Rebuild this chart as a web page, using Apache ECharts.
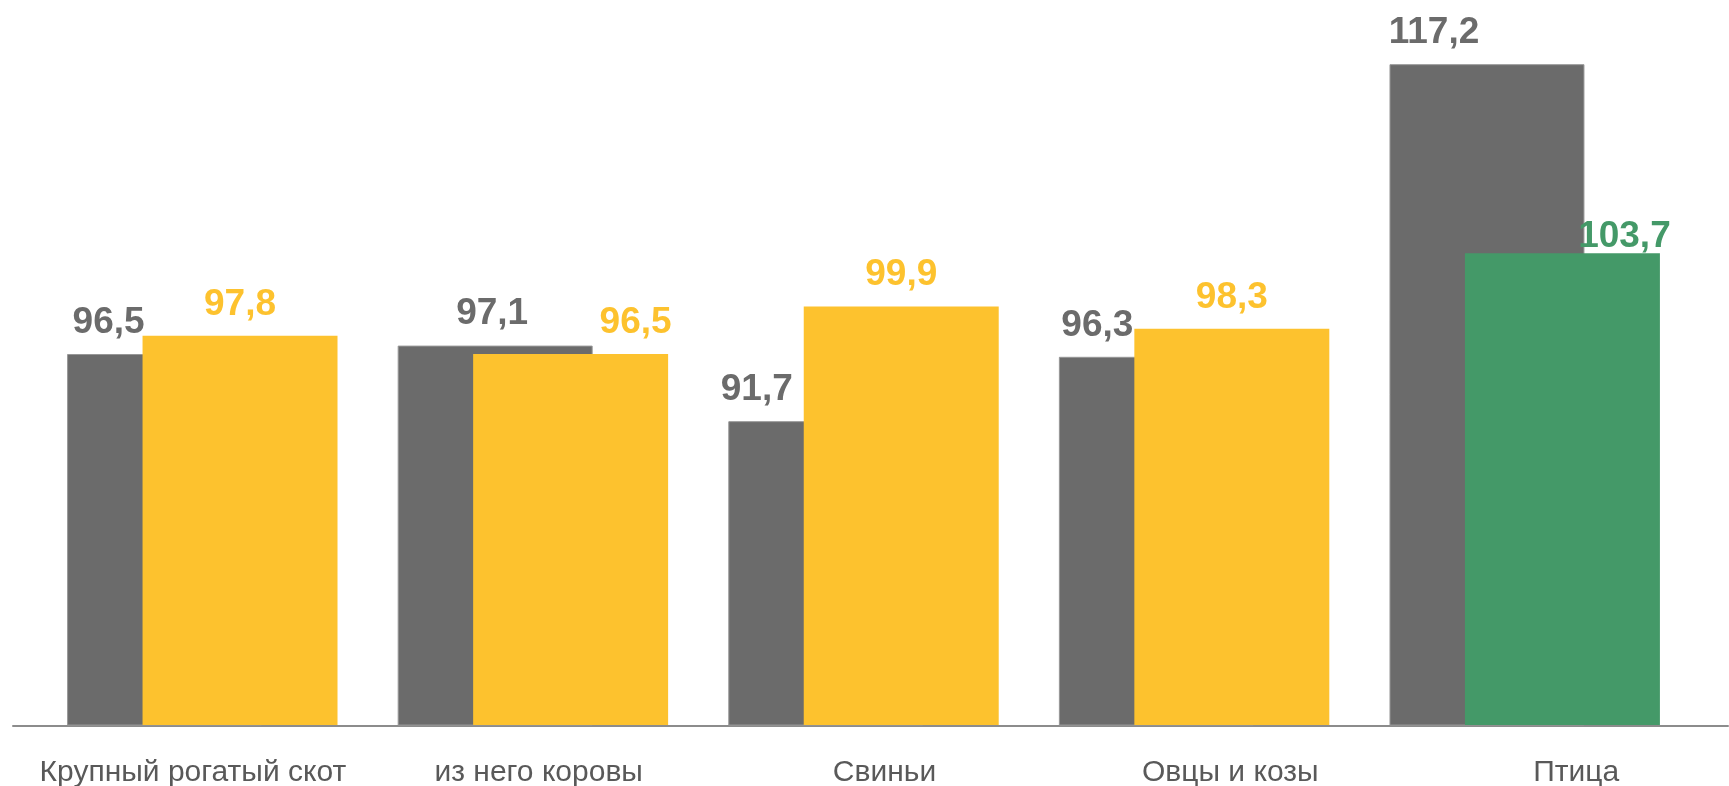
<!DOCTYPE html>
<html>
<head>
<meta charset="utf-8">
<style>
  html, body { margin: 0; padding: 0; background: #ffffff; }
  #chart { width: 1729px; height: 786px; }
</style>
<script src="https://cdn.jsdelivr.net/npm/echarts@6/dist/echarts.min.js"></script>
</head>
<body>
<div id="chart"></div>
<script>
// ---- data ----
const categories = ['Крупный рогатый скот', 'из него коровы', 'Свиньи', 'Овцы и козы', 'Птица'];
const prevValues = [96.5, 97.1, 91.7, 96.3, 117.2];
const currValues = [97.8, 96.5, 99.9, 98.3, 103.7];

// ---- label nudges (layout only, [dx, dy]) ----
const prevLabelOffset = [[-56, 0], [-3, 0], [-69, 0], [-59, 0], [-53, 0]];
const currLabelOffset = [[0, 0], [65, 0], [0, 0], [0, 0], [62, 15]];

const FONT = "'Liberation Sans', Arial, sans-serif";
const GRAY = '#6b6b6b';
const YELLOW = '#fdc22e';
const GREEN = '#449968';

const fmt = v => v.toFixed(1).replace('.', ',');

const chart = echarts.init(document.getElementById('chart'));

const labelBase = {
  show: true,
  position: 'top',
  distance: 13,
  fontFamily: FONT,
  fontWeight: 'bold',
  fontSize: 37
};

const option = {
  backgroundColor: '#ffffff',
  animation: false,
  grid: [
    { left: 37, right: 39, top: 25, bottom: 61, outerBoundsMode: 'none', containLabel: false },
    { left: 20, width: 1729, top: 25, bottom: 60, outerBoundsMode: 'none', containLabel: false },
    { left: 13, right: 1, top: 25, bottom: 60, outerBoundsMode: 'none', containLabel: false }
  ],
  xAxis: [
    {
      type: 'category', gridIndex: 0, data: categories,
      axisLine: { show: false }, axisTick: { show: false }, axisLabel: { show: false }
    },
    {
      type: 'category', gridIndex: 1, data: categories,
      axisLine: { show: false }, axisTick: { show: false },
      axisLabel: { show: true, interval: 0, margin: 32, color: '#595959', fontFamily: FONT, fontSize: 30 }
    },
    {
      type: 'category', gridIndex: 2, data: categories,
      axisLine: { show: true, lineStyle: { color: '#8c8c8c', width: 2 } },
      axisTick: { show: false }, axisLabel: { show: false }
    }
  ],
  yAxis: [
    { type: 'value', gridIndex: 0, min: 70, max: 120, show: false, splitLine: { show: false } },
    { type: 'value', gridIndex: 1, min: 0, max: 1, show: false, splitLine: { show: false } },
    { type: 'value', gridIndex: 2, min: 0, max: 1, show: false, splitLine: { show: false } }
  ],
  series: [
    {
      type: 'bar', xAxisIndex: 0, yAxisIndex: 0,
      barGap: '-61.3%', barCategoryGap: '18.2%',
      itemStyle: { color: GRAY, borderColor: '#979797', borderWidth: 1 },
      data: prevValues.map((v, i) => ({
        value: v,
        label: Object.assign({}, labelBase, { color: GRAY, offset: prevLabelOffset[i], formatter: p => fmt(p.value) })
      }))
    },
    {
      type: 'bar', xAxisIndex: 0, yAxisIndex: 0,
      barGap: '-61.3%', barCategoryGap: '18.2%',
      data: currValues.map((v, i) => {
        const c = v >= 100 ? GREEN : YELLOW;
        return {
          value: v,
          itemStyle: { color: c },
          label: Object.assign({}, labelBase, { color: c, offset: currLabelOffset[i], formatter: p => fmt(p.value) })
        };
      })
    }
  ]
};

chart.setOption(option);
</script>
</body>
</html>
